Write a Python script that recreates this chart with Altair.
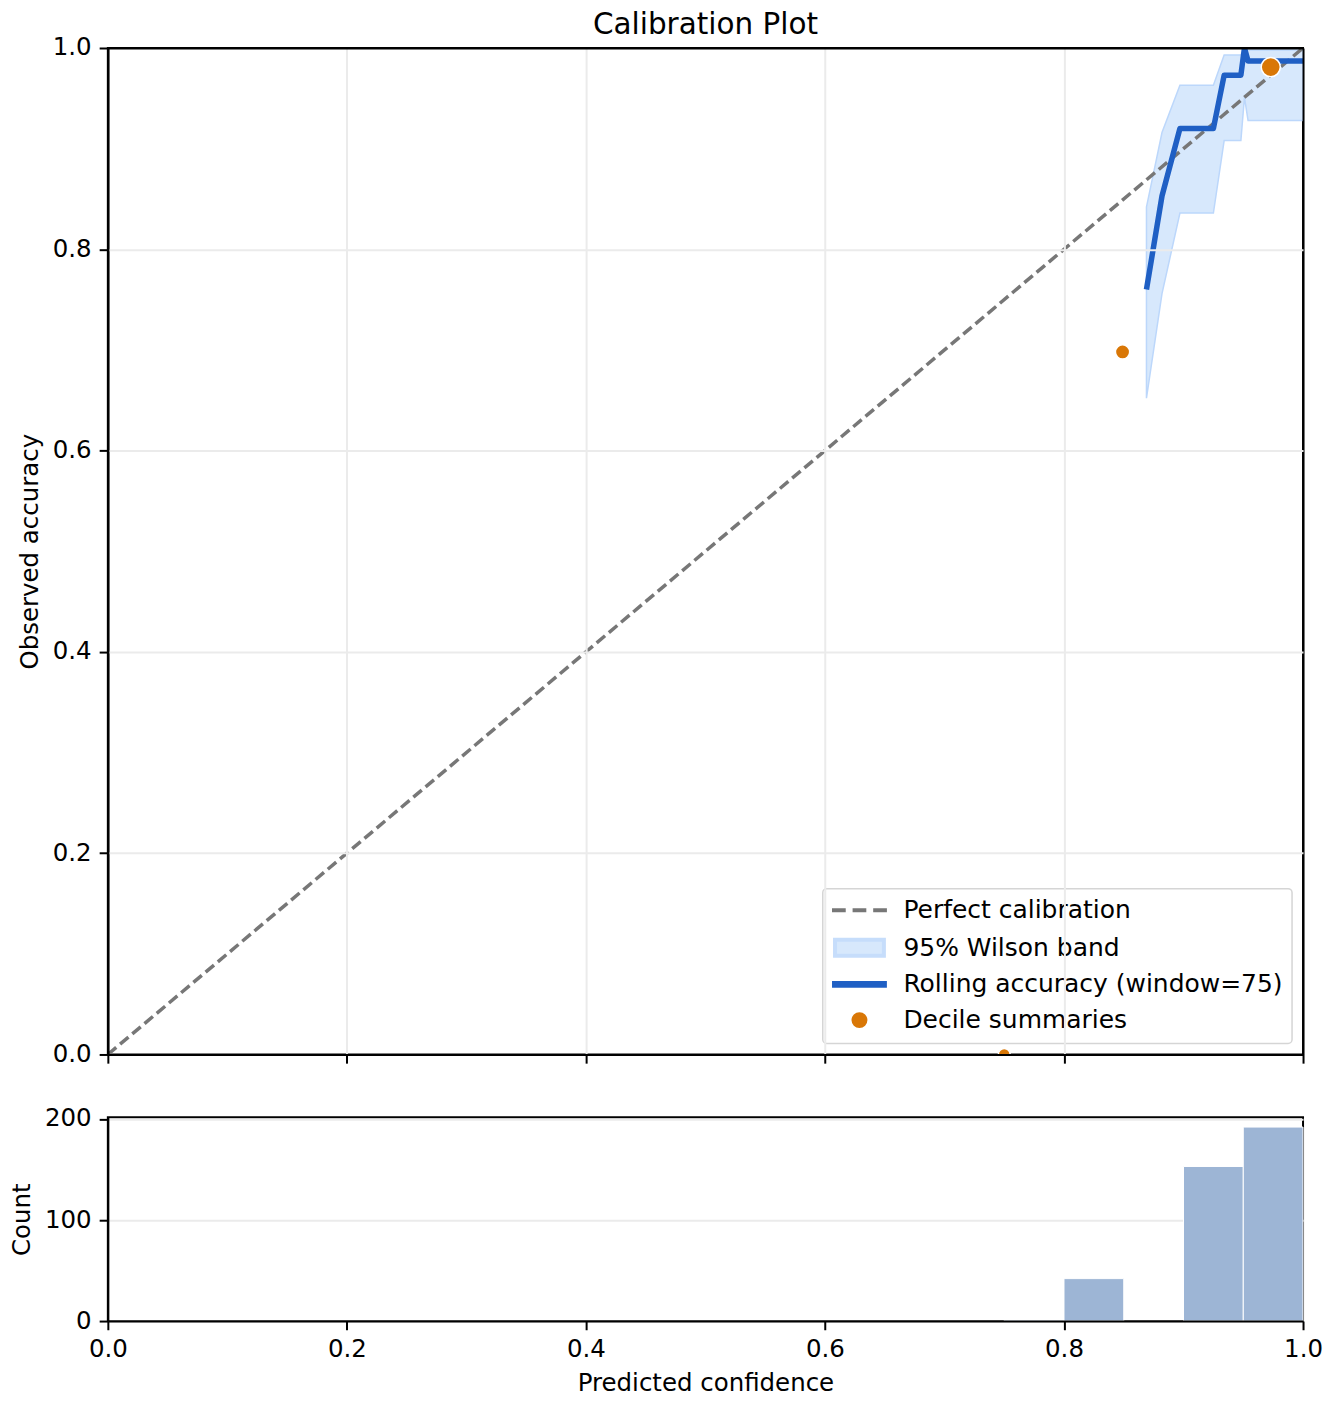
import altair as alt
import pandas as pd

# ---- data ----
diag_conf = [0.0, 1.0]
diag_acc = [0.0, 1.0]

roll_conf = [0.869, 0.882, 0.897, 0.925, 0.934, 0.948, 0.951, 0.954, 1.0]
roll_acc = [0.760, 0.853, 0.920, 0.920, 0.973, 0.973, 1.000, 0.987, 0.987]
band_lo = [0.652, 0.756, 0.836, 0.836, 0.908, 0.908, 0.951, 0.928, 0.928]
band_hi = [0.842, 0.916, 0.963, 0.963, 0.993, 0.993, 1.000, 0.998, 0.998]

dec_conf = [0.750, 0.849, 0.973]
dec_acc = [0.000, 0.698, 0.981]
dec_n = [1, 42, 345]

bin_start = [0.75, 0.80, 0.90, 0.95]
bin_end = [0.80, 0.85, 0.95, 1.00]
bin_count = [1, 42, 153, 192]

tick_vals = [0.0, 0.2, 0.4, 0.6, 0.8, 1.0]
count_ticks = [0, 100, 200]

legend_labels = [
    "Perfect calibration",
    "95% Wilson band",
    "Rolling accuracy (window=75)",
    "Decile summaries",
]

# ---- styles ----
FONT = "DejaVu Sans"
FS = 24.5
GRAY = "#777777"
BAND_FILL = "#d7e8fc"
BAND_EDGE = "#bcd7fb"
BLUE = "#1f5fc4"
ORANGE = "#d97706"
HIST = "#9db5d5"
GRID = "#ebebeb"

diag_df = pd.DataFrame({"conf": diag_conf, "acc": diag_acc})
roll_df = pd.DataFrame({"conf": roll_conf, "acc": roll_acc, "lo": band_lo, "hi": band_hi})
dec_df = pd.DataFrame({"conf": dec_conf, "acc": dec_acc, "n": dec_n})
hist_df = pd.DataFrame({"start": bin_start, "end": bin_end, "count": bin_count})
leg_df = pd.DataFrame({"series": legend_labels})

XS = alt.Scale(domain=[0, 1], nice=False, zero=False)
YS = alt.Scale(domain=[0, 1], nice=False, zero=False)

edge_grid = alt.condition("datum.value <= 0 || datum.value >= 1", alt.value("black"), alt.value(GRID))

x_main_axis = alt.Axis(values=tick_vals, labels=False, title=None, grid=True, gridColor=edge_grid, zindex=1)
y_main_axis = alt.Axis(values=tick_vals, format=".1f", title="Observed accuracy", grid=True, gridColor=edge_grid, zindex=1)

band = alt.Chart(roll_df).mark_area(
    color=BAND_FILL, opacity=1, stroke=BAND_EDGE, strokeWidth=1.5, clip=True
).encode(
    x=alt.X("conf:Q", scale=XS, axis=x_main_axis),
    y=alt.Y("lo:Q", scale=YS, axis=y_main_axis),
    y2="hi:Q",
)

diag = alt.Chart(diag_df).mark_line(
    color=GRAY, strokeWidth=3.5, strokeDash=[11, 5], clip=True
).encode(
    x=alt.X("conf:Q", scale=XS),
    y=alt.Y("acc:Q", scale=YS),
)

roll = alt.Chart(roll_df).mark_line(
    color=BLUE, strokeWidth=5.5, strokeJoin="round", clip=True
).encode(
    x=alt.X("conf:Q", scale=XS),
    y=alt.Y("acc:Q", scale=YS),
)

pts = alt.Chart(dec_df).mark_circle(
    fill=ORANGE, stroke="white", strokeWidth=1.5, opacity=1, clip=True
).encode(
    x=alt.X("conf:Q", scale=XS),
    y=alt.Y("acc:Q", scale=YS),
    size=alt.Size("n:Q", scale=alt.Scale(type="pow", exponent=0.57, domain=[1, 345], range=[143, 366]), legend=None),
)

leg_paths = [
    "M-3,0L-1.5,0M-0.75,0L0.75,0M1.5,0L3,0",
    "M-2.67,-0.87L2.67,-0.87L2.67,0.87L-2.67,0.87Z",
    "M-2.78,-0.15L2.78,-0.15L2.78,0.15L-2.78,0.15Z",
    "M-0.654,0A0.654,0.654,0,1,1,0.654,0A0.654,0.654,0,1,1,-0.654,0Z",
]
leg_fill = ["transparent", BAND_FILL, BLUE, ORANGE]
leg_stroke = [GRAY, "#c6ddfb", BLUE, ORANGE]

legend_layer = alt.Chart(leg_df).transform_filter("false").mark_point(
    filled=True, opacity=1
).encode(
    fill=alt.Fill("series:N", scale=alt.Scale(domain=legend_labels, range=leg_fill), legend=alt.Legend(title=None)),
    stroke=alt.Stroke("series:N", scale=alt.Scale(domain=legend_labels, range=leg_stroke), legend=alt.Legend(title=None)),
    shape=alt.Shape("series:N", scale=alt.Scale(domain=legend_labels, range=leg_paths), legend=alt.Legend(title=None)),
)

main = alt.layer(band, diag, roll, pts, legend_layer).properties(
    width=1197,
    height=1008,
    title=alt.TitleParams(
        "Calibration Plot", font=FONT, fontSize=29.5, fontWeight="normal",
        color="black", anchor="middle", frame="group", offset=-5.5,
    ),
)

hist = alt.Chart(hist_df).mark_bar(
    color=HIST, stroke="white", strokeWidth=1, opacity=1
).encode(
    x=alt.X("start:Q", scale=XS, axis=alt.Axis(values=tick_vals, format=".1f", title="Predicted confidence", grid=False, labelFlush=False, zindex=1)),
    x2="end:Q",
    y=alt.Y("count:Q", scale=alt.Scale(domain=[0, 201.6], nice=False), axis=alt.Axis(values=count_ticks, title="Count", grid=True, zindex=0)),
    y2=alt.datum(0),
).properties(width=1197, height=204)

chart = alt.vconcat(main, hist, spacing=37).resolve_scale(
    fill="independent", stroke="independent", shape="independent", size="independent"
).resolve_legend(
    fill="independent", stroke="independent", shape="independent", size="independent"
).properties(
    padding={"left": 0, "top": 0, "right": 0, "bottom": 0}
).configure_view(
    stroke="black", strokeWidth=2
).configure_axis(
    labelFont=FONT, titleFont=FONT, labelFontSize=FS, titleFontSize=FS,
    labelColor="black", titleColor="black", titleFontWeight="normal",
    tickColor="black", tickSize=8.7, tickWidth=2,
    domainColor="black", domainWidth=2,
    gridColor=GRID, gridWidth=2,
    labelPadding=8, titlePadding=10,
).configure_legend(
    orient="bottom-right", offset=11, padding=9,
    fillColor="rgba(255,255,255,0.8)", strokeColor="#d5d5d5", strokeWidth=1.5, cornerRadius=4,
    labelFont=FONT, labelFontSize=25, labelColor="black", labelLimit=1000,
    symbolSize=336, symbolStrokeWidth=4, symbolOffset=15.25, labelOffset=31.5,
    rowPadding=7.7,
)

chart.save("out.html", embed_options={"renderer": "svg", "actions": False})
